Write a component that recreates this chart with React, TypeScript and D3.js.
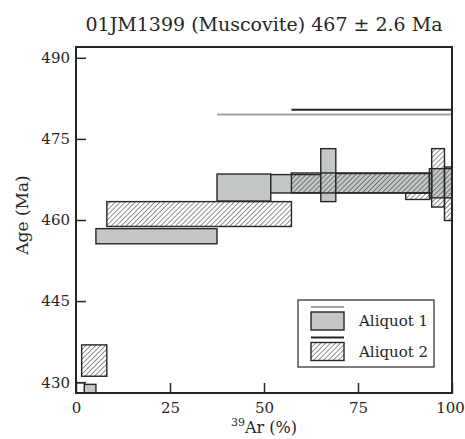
import React, { useEffect, useRef } from "react";
import * as d3 from "d3";

// steps: [start %39Ar, end %39Ar, age (Ma), ± error (Ma)]
const aliquot1 = [
  [2.2, 5.3, 428.5, 1.1],
  [5.3, 37.5, 457.0, 1.4],
  [37.5, 51.8, 466.0, 2.5],
  [51.8, 65.1, 466.7, 1.7],
  [65.1, 69.1, 468.3, 4.9],
  [69.1, 94.0, 466.8, 1.8],
  [94.0, 100, 466.8, 2.7],
];
const aliquot2 = [
  [1.5, 8.2, 434.0, 2.9],
  [8.2, 57.3, 461.1, 2.3],
  [57.3, 94.6, 466.85, 1.85],
  [87.7, 94.1, 464.4, 0.6],
  [94.6, 98.0, 467.8, 5.4],
  [98.0, 100, 464.85, 4.95],
];
const excluded = [[0, 2.3, 428.9, 1.0]];

// plateau bars: [from %, to %, plotted age]
const plateau1 = [37.5, 100, 479.5];
const plateau2 = [57.3, 100, 480.4];

const xTicks = [0, 25, 50, 75, 100];
const yTicks = [430, 445, 460, 475, 490];
const title = "01JM1399 (Muscovite) 467 \u00b1 2.6 Ma";

const W = 465;
const H = 439;
const margin = { top: 47, right: 13, bottom: 46, left: 76 };
const font = "'DejaVu Serif', serif";
const ink = "#262626";
const grey = "#c3c7c6";

export default function App() {
  const svgRef = useRef<SVGSVGElement>(null);

  useEffect(() => {
    const svg = d3.select(svgRef.current);
    svg.selectAll("*").remove();

    const x = d3.scaleLinear().domain([0, 100]).range([margin.left, W - margin.right]);
    const y = d3.scaleLinear().domain([428, 492]).range([H - margin.bottom, margin.top]);

    const defs = svg.append("defs");
    const pat = defs
      .append("pattern")
      .attr("id", "hatch")
      .attr("patternUnits", "userSpaceOnUse")
      .attr("width", 3.5)
      .attr("height", 3.5)
      .attr("patternTransform", "rotate(45)");
    pat
      .append("line")
      .attr("x1", 0)
      .attr("y1", 0)
      .attr("x2", 0)
      .attr("y2", 3.5)
      .attr("stroke", ink)
      .attr("stroke-width", 1);

    defs
      .append("clipPath")
      .attr("id", "plotclip")
      .append("rect")
      .attr("x", x(0))
      .attr("y", y(492))
      .attr("width", x(100) - x(0))
      .attr("height", y(428) - y(492));

    const plot = svg.append("g").attr("clip-path", "url(#plotclip)");

    const drawSteps = (data: number[][], fill: string) => {
      plot
        .append("g")
        .selectAll("rect")
        .data(data)
        .join("rect")
        .attr("x", (d) => x(d[0]))
        .attr("width", (d) => x(d[1]) - x(d[0]))
        .attr("y", (d) => y(d[2] + d[3]))
        .attr("height", (d) => y(d[2] - d[3]) - y(d[2] + d[3]))
        .attr("fill", fill)
        .attr("stroke", ink)
        .attr("stroke-width", 1.4);
    };
    drawSteps(excluded, "white");
    drawSteps(aliquot1, grey);
    drawSteps(aliquot2, "url(#hatch)");

    // plateau bars
    plot
      .append("line")
      .attr("x1", x(plateau1[0]))
      .attr("x2", x(plateau1[1]))
      .attr("y1", y(plateau1[2]))
      .attr("y2", y(plateau1[2]))
      .attr("stroke", "#a2a6a6")
      .attr("stroke-width", 2);
    plot
      .append("line")
      .attr("x1", x(plateau2[0]))
      .attr("x2", x(plateau2[1]))
      .attr("y1", y(plateau2[2]))
      .attr("y2", y(plateau2[2]))
      .attr("stroke", ink)
      .attr("stroke-width", 2);

    // axes
    const xAxis = svg
      .append("g")
      .attr("transform", `translate(0,${y(428)})`)
      .call(d3.axisBottom(x).tickValues(xTicks).tickSizeInner(-10).tickSizeOuter(0).tickPadding(9));
    const yAxis = svg
      .append("g")
      .attr("transform", `translate(${x(0)},0)`)
      .call(d3.axisLeft(y).tickValues(yTicks).tickSizeInner(-10).tickSizeOuter(0).tickPadding(6));
    [xAxis, yAxis].forEach((g) => {
      g.select(".domain").remove();
      g.selectAll("line").attr("stroke", ink).attr("stroke-width", 1.5);
      g.selectAll("text")
        .attr("fill", ink)
        .style("font-family", font)
        .style("font-size", "15px");
    });
    xAxis.selectAll("text").filter((d) => d === 100).attr("dx", -2);

    // frame
    svg
      .append("rect")
      .attr("x", x(0))
      .attr("y", y(492))
      .attr("width", x(100) - x(0))
      .attr("height", y(428) - y(492))
      .attr("fill", "none")
      .attr("stroke", ink)
      .attr("stroke-width", 2);

    // title and axis labels
    svg
      .append("text")
      .attr("x", 264)
      .attr("y", 31)
      .attr("text-anchor", "middle")
      .attr("fill", ink)
      .style("font-family", font)
      .style("font-size", "19px")
      .text(title);

    svg
      .append("text")
      .attr("transform", `translate(28,215) rotate(-90)`)
      .attr("text-anchor", "middle")
      .attr("fill", ink)
      .style("font-family", font)
      .style("font-size", "17px")
      .text("Age (Ma)");

    const xl = svg
      .append("text")
      .attr("x", x(50))
      .attr("y", 433)
      .attr("text-anchor", "middle")
      .attr("fill", ink)
      .style("font-family", font)
      .style("font-size", "16px");
    xl.append("tspan").attr("dy", -7).style("font-size", "11px").text("39");
    xl.append("tspan").attr("dy", 7).text("Ar (%)");

    // legend
    const lg = svg.append("g");
    lg.append("rect")
      .attr("x", 298)
      .attr("y", 300)
      .attr("width", 136)
      .attr("height", 67)
      .attr("fill", "white")
      .attr("stroke", ink)
      .attr("stroke-width", 1.2);
    const items = [
      { label: "Aliquot 1", line: "#a2a6a6", fill: grey, top: 307 },
      { label: "Aliquot 2", line: ink, fill: "url(#hatch)", top: 337.5 },
    ];
    items.forEach((it) => {
      lg.append("line")
        .attr("x1", 311)
        .attr("x2", 344)
        .attr("y1", it.top)
        .attr("y2", it.top)
        .attr("stroke", it.line)
        .attr("stroke-width", 2);
      lg.append("rect")
        .attr("x", 311)
        .attr("y", it.top + 5)
        .attr("width", 33)
        .attr("height", 18)
        .attr("fill", it.fill)
        .attr("stroke", ink)
        .attr("stroke-width", 1.4);
      lg.append("text")
        .attr("x", 359)
        .attr("y", it.top + 19)
        .attr("fill", ink)
        .style("font-family", font)
        .style("font-size", "15px")
        .text(it.label);
    });
  }, []);

  return (
    <svg
      ref={svgRef}
      width={W}
      height={H}
      style={{ position: "absolute", left: 0, top: 0, background: "white" }}
    />
  );
}
